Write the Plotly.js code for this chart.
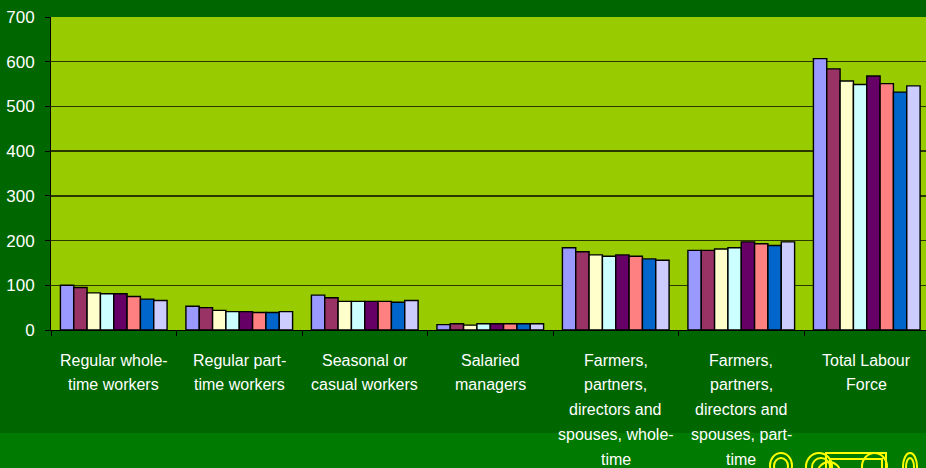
<!DOCTYPE html>
<html>
<head>
<meta charset="utf-8">
<script src="https://cdn.plot.ly/plotly-3.0.1.min.js"></script>
<style>
html,body{margin:0;padding:0;background:#006600;}
#chart{width:926px;height:468px;}
</style>
</head>
<body>
<div id="chart"></div>
<script>
// Category labels (one entry per line of each label)
const categoryLines = [
  ["Regular whole-", "time workers"],
  ["Regular part-", "time workers"],
  ["Seasonal or", "casual workers"],
  ["Salaried", "managers"],
  ["Farmers,", "partners,", "directors and", "spouses, whole-", "time"],
  ["Farmers,", "partners,", "directors and", "spouses, part-", "time"],
  ["Total Labour", "Force"]
];
const categoryIndex = [0, 1, 2, 3, 4, 5, 6];

// Series values (one array per series, 7 categories each)
const series1 = [100, 53, 78, 12, 184, 178, 607];
const series2 = [95, 50, 72, 14, 175, 178, 584];
const series3 = [83, 44, 64, 11, 168, 181, 557];
const series4 = [81, 41, 64, 14, 165, 184, 549];
const series5 = [81, 41, 64, 14, 168, 197, 568];
const series6 = [75, 39, 64, 14, 165, 193, 551];
const series7 = [69, 39, 62, 14, 159, 189, 532];
const series8 = [66, 41, 66, 14, 156, 197, 546];

const seriesNames = ["Series 1","Series 2","Series 3","Series 4","Series 5","Series 6","Series 7","Series 8"];
const seriesColors = ["#9999FF","#993366","#FFFFCC","#CCFFFF","#660066","#FF8080","#0066CC","#CCCCFF"];
const allSeries = [series1, series2, series3, series4, series5, series6, series7, series8];

const yTickVals = [0, 100, 200, 300, 400, 500, 600, 700];

const traces = allSeries.map((vals, i) => ({
  type: "bar",
  name: seriesNames[i],
  x: categoryIndex,
  y: vals,
  marker: {color: seriesColors[i], line: {color: "#000000", width: 1.4}},
  showlegend: false,
  hoverinfo: "y"
}));

const annotations = [];
categoryLines.forEach((lines, ci) => {
  lines.forEach((ln, li) => {
    annotations.push({
      xref: "x", yref: "paper",
      x: categoryIndex[ci], y: 0,
      yanchor: "middle", xanchor: "center",
      yshift: -(30 + 24.8 * li),
      text: ln, showarrow: false,
      font: {family: "Liberation Sans, Arial, sans-serif", size: 16, color: "#FFFFFF"}
    });
  });
});

// paper-coordinate helpers for decorative shapes
const px = v => (v - 51) / 875;
const py = v => (330 - v) / 313;
const deco = (x0, y0, x1, y1, type) => ({
  type: type, xref: "paper", yref: "paper",
  x0: px(x0), x1: px(x1), y0: py(y0), y1: py(y1),
  line: {color: "#FFFF00", width: 2}, layer: "above"
});

const shapes = [
  {type: "rect", xref: "paper", yref: "paper", x0: px(0), x1: px(926), y0: py(433), y1: py(470),
   fillcolor: "#007A00", line: {width: 0}, layer: "below"},
  deco(770, 453, 792, 478, "circle"),
  deco(774, 458, 788, 474, "circle"),
  deco(806, 453, 832, 480, "circle"),
  deco(812, 458, 830, 476, "circle"),
  deco(818, 462, 840, 482, "circle"),
  deco(826, 453, 886, 480, "rect"),
  deco(830, 459, 882, 470, "rect"),
  deco(862, 453, 887, 480, "circle"),
  deco(903, 453, 917, 480, "circle"),
  deco(906, 458, 914, 476, "circle")
];

const layout = {
  width: 926, height: 468,
  margin: {l: 51, r: 0, t: 17, b: 138},
  paper_bgcolor: "#006600",
  plot_bgcolor: "#99CC00",
  barmode: "group",
  bargap: 0.15,
  bargroupgap: 0,
  font: {family: "Liberation Sans, Arial, sans-serif", color: "#FFFFFF"},
  xaxis: {
    range: [-0.5, 6.472],
    tickmode: "array",
    tickvals: [-0.5, 0.5, 1.5, 2.5, 3.5, 4.5, 5.5],
    ticktext: ["", "", "", "", "", "", ""],
    ticks: "outside", ticklen: 5, tickcolor: "#000000", tickwidth: 1,
    showgrid: false, zeroline: false,
    showline: true, linecolor: "#000000", linewidth: 1,
    fixedrange: true
  },
  yaxis: {
    range: [0, 700],
    tickmode: "array",
    tickvals: yTickVals,
    ticktext: yTickVals.map(String),
    ticks: "outside", ticklen: 5, tickcolor: "#000000", tickwidth: 1,
    ticklabelstandoff: 7,
    tickfont: {family: "Liberation Sans, Arial, sans-serif", size: 17, color: "#FFFFFF"},
    showgrid: true, gridcolor: "#2A3800", gridwidth: 1.3,
    zeroline: false,
    showline: true, linecolor: "#000000", linewidth: 1,
    fixedrange: true
  },
  annotations: annotations,
  shapes: shapes
};

Plotly.newPlot("chart", traces, layout, {displayModeBar: false, staticPlot: true});
</script>
</body>
</html>
